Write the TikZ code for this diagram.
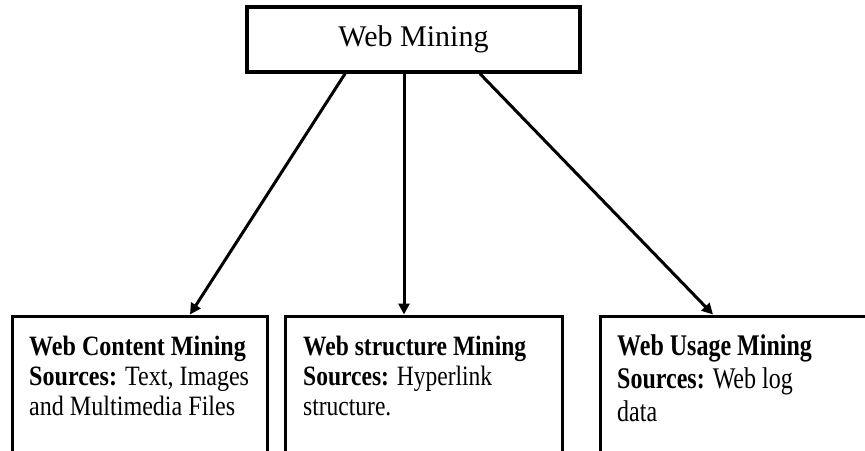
\documentclass[tikz,border=0pt]{standalone}
\usepackage{fontspec}
\setmainfont{Liberation Serif}
\usetikzlibrary{arrows.meta}
\begin{document}
\begin{tikzpicture}[x=1pt,y=-1pt,
  box/.style={draw=black, line width=3pt, inner sep=0pt},
  link/.style={line width=3pt, -{Triangle[length=11pt,width=11pt]}},
  txt/.style={anchor=base west, inner sep=0pt}]
\useasboundingbox (0,0) rectangle (865,450);
\fill[white] (0,0) rectangle (865,450);
\node[box, line width=3.5pt, minimum width=333pt, minimum height=65pt, font=\fontsize{30}{36}\selectfont] (top) at (413.5,39.5) {Web Mining};
\node[box, minimum width=255pt, minimum height=164pt] (b1) at (139.5,398) {};
\node[box, minimum width=277pt, minimum height=164pt] (b2) at (423.5,398) {};
\node[box, minimum width=280pt, minimum height=164pt] (b3) at (740,398) {};
\node[txt] (t1) at (29,355) {\fontsize{28}{30}\selectfont\scalebox{0.86}[1]{\begin{tabular}[t]{@{}l@{}}\textbf{Web Content Mining}\\ \textbf{Sources:} Text, Images\\ and Multimedia Files\end{tabular}}};
\node[txt] (t2) at (303,355) {\fontsize{28}{30}\selectfont\scalebox{0.84}[1]{\begin{tabular}[t]{@{}l@{}}\textbf{Web structure Mining}\\ \textbf{Sources:} Hyperlink\\ structure.\end{tabular}}};
\node[txt] (t3) at (617,355) {\fontsize{30}{33}\selectfont\scalebox{0.8}[1]{\begin{tabular}[t]{@{}l@{}}\textbf{Web Usage Mining}\\ \textbf{Sources:} Web log\\ data\end{tabular}}};
\draw[link] ([xshift=-68.5pt]top.south) -- ([xshift=50.5pt]b1.north);
\draw[link] ([xshift=-9.5pt]top.south) -- ([xshift=-19.5pt]b2.north);
\draw[link] ([xshift=66.5pt]top.south) -- ([xshift=-27pt]b3.north);
\end{tikzpicture}
\end{document}
